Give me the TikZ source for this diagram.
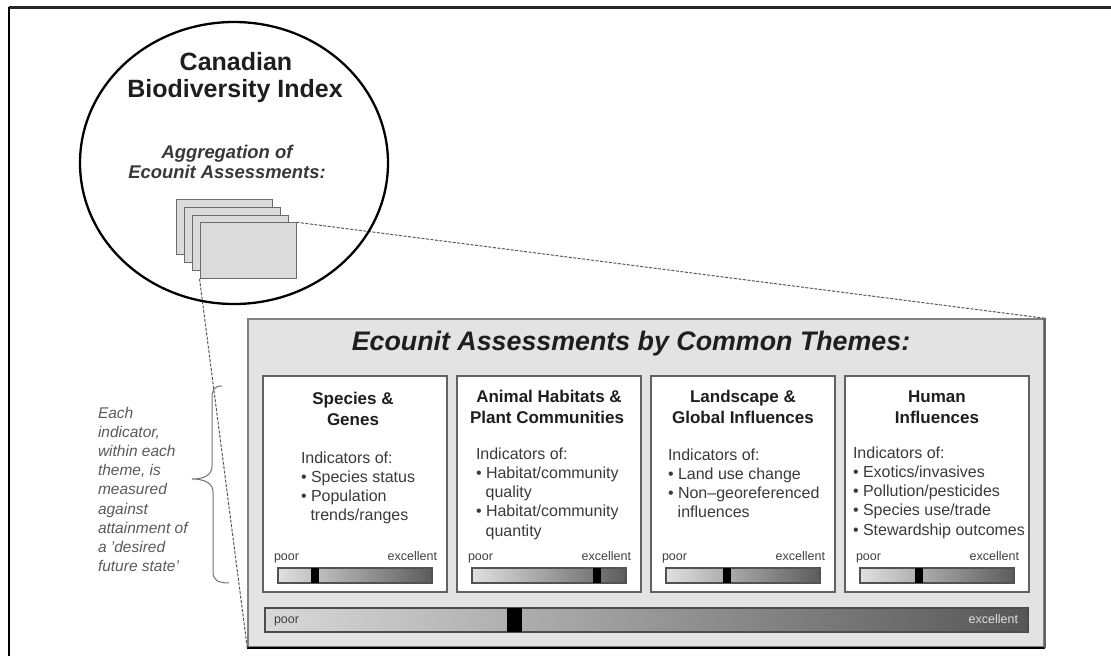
\documentclass[tikz,border=0pt]{standalone}
\usepackage{fontspec}
\setmainfont{Liberation Sans}
\usetikzlibrary{shapes.geometric}
\definecolor{titleink}{HTML}{1E1E1E}
\definecolor{bodyink}{HTML}{3A3A3A}
\definecolor{sideink}{HTML}{5A5A5A}
\newcommand\bigtitlefont{\fontsize{26.8}{30}\selectfont\bfseries\itshape}
\newcommand\cbifont{\fontsize{25}{27}\selectfont\bfseries}
\newcommand\aggfont{\fontsize{18.4}{20}\selectfont\bfseries\itshape}
\newcommand\themefont{\fontsize{17}{21}\selectfont\bfseries}
\newcommand\bodyfont{\fontsize{16}{19.3}\selectfont}
\newcommand\lblfont{\fontsize{12.5}{14}\selectfont}
\newcommand\sidefont{\fontsize{15.5}{19.2}\selectfont\itshape}
\begin{document}
\begin{tikzpicture}[x=1pt,y=-1pt,
  txt/.style={inner sep=0pt, outer sep=0pt},
  themebox/.style={draw=black!62, line width=1.3pt, fill=white, minimum width=184pt, minimum height=216pt, inner sep=0pt},
  stackrect/.style={draw=black!58, line width=1pt, fill=black!14, minimum width=96pt, minimum height=55.5pt, inner sep=0pt},
  smallbar/.style={draw=black!68, line width=1.1pt, left color=black!12, middle color=black!24, right color=black!64, minimum width=154pt, minimum height=15pt, inner sep=0pt},
  smallmark/.style={fill=black, minimum width=8pt, minimum height=15pt, inner sep=0pt},
  dashline/.style={draw=black!65, line width=1pt, dash pattern=on 3pt off 1.5pt},
  themetitle/.style={txt, anchor=base, font=\themefont, text=titleink},
  bodyline/.style={txt, anchor=base west, font=\bodyfont, text=bodyink},
  poorlbl/.style={txt, anchor=base west, font=\lblfont, text=black!75},
  exclbl/.style={txt, anchor=base east, font=\lblfont, text=black!75}
]
\useasboundingbox (0,0) rectangle (1111,656);
\fill[white] (0,0) rectangle (1111,656);
% frame (cropped at right and bottom)
\draw[line width=2.2pt, black!85] (8.5,7.5) -- (1111,7.5);
\draw[line width=1.6pt, black] (9,7) -- (9,656);

% stack of ecounit assessment cards
\node[stackrect] (s1) at (224,227) {};
\node[stackrect] (s2) at (232,235) {};
\node[stackrect] (s3) at (240,243) {};
\node[stackrect] (s4) at (248,250.5) {};

% big box
\node[draw=black!50, line width=1.5pt, fill=black!11, minimum width=796pt, minimum height=328pt, inner sep=0pt] (big) at (646,483) {};
\draw[line width=2.2pt, black] (big.south west) -- (big.south east);
\draw[line width=2pt, black!62] (big.south east) -- (big.north east);

% dashed zoom lines
\draw[dashline] (s4.north east) -- (big.north east);
\draw[dashline] (s4.south west) -- (big.south west);

% circle
\node[ellipse, draw=black, line width=2.3pt, minimum width=308pt, minimum height=282pt, inner sep=0pt] (cbi) at (234,163) {};
\node[txt, anchor=base, font=\cbifont, text=titleink] (cbi1) at (236,70) {Canadian};
\node[txt, anchor=base, font=\cbifont, text=titleink] (cbi2) at (235,97) {Biodiversity Index};
\node[txt, anchor=base, font=\aggfont, text=black!78] (agg1) at (227,158) {Aggregation of};
\node[txt, anchor=base, font=\aggfont, text=black!78] (agg2) at (227,178) {Ecounit Assessments:};

% big title
\node[txt, anchor=base, font=\bigtitlefont, text=titleink] (bigtitle) at (631,350) {Ecounit Assessments by Common Themes:};

% theme boxes
\node[themebox] (t1) at (355,484) {};
\node[themebox] (t2) at (549,484) {};
\node[themebox] (t3) at (743,484) {};
\node[themebox] (t4) at (937,484) {};

\node[themetitle] (t1a) at (353,404) {Species \&};
\node[themetitle] (t1b) at (353,425) {Genes};
\node[themetitle] (t2a) at (549,402) {Animal Habitats \&};
\node[themetitle] (t2b) at (547,423) {Plant Communities};
\node[themetitle] (t3a) at (743,402) {Landscape \&};
\node[themetitle] (t3b) at (743,423) {Global Influences};
\node[themetitle] (t4a) at (937,402) {Human};
\node[themetitle] (t4b) at (937,423) {Influences};

% body texts
\foreach \t [count=\i] in {Indicators of:, • Species status, • Population, \hspace*{9.5pt}trends/ranges}
  \node[bodyline] (b1-\i) at (301,463+19.3*\i-19.3) {\t};
\foreach \t [count=\i] in {Indicators of:, • Habitat/community, \hspace*{9.7pt}quality, • Habitat/community, \hspace*{9.7pt}quantity}
  \node[bodyline] (b2-\i) at (476,459+19.3*\i-19.3) {\t};
\foreach \t [count=\i] in {Indicators of:, • Land use change, • Non–georeferenced, \hspace*{9.7pt}influences}
  \node[bodyline] (b3-\i) at (668,460+19.3*\i-19.3) {\t};
\foreach \t [count=\i] in {Indicators of:, • Exotics/invasives, • Pollution/pesticides, • Species use/trade, • Stewardship outcomes}
  \node[bodyline] (b4-\i) at (853,458+19.3*\i-19.3) {\t};

% small bars
\node[smallbar] (bar1) at (355,575.5) {};
\node[smallbar] (bar2) at (549,575.5) {};
\node[smallbar] (bar3) at (743,575.5) {};
\node[smallbar] (bar4) at (937,575.5) {};
\node[smallmark] (m1) at (315,575.5) {};
\node[smallmark] (m2) at (597,575.5) {};
\node[smallmark] (m3) at (727,575.5) {};
\node[smallmark] (m4) at (919,575.5) {};
\node[poorlbl] (p1) at (274,560) {poor};
\node[exclbl] (e1) at (437,560) {excellent};
\node[poorlbl] (p2) at (468,560) {poor};
\node[exclbl] (e2) at (631,560) {excellent};
\node[poorlbl] (p3) at (662,560) {poor};
\node[exclbl] (e3) at (825,560) {excellent};
\node[poorlbl] (p4) at (856,560) {poor};
\node[exclbl] (e4) at (1019,560) {excellent};

% overall bar
\node[draw=black!70, line width=1.3pt, left color=black!15, middle color=black!22, right color=black!66, minimum width=763pt, minimum height=24pt, inner sep=0pt] (bbar) at (646.5,620) {};
\node[fill=black, minimum width=15pt, minimum height=24pt, inner sep=0pt] (bm) at (514.5,620) {};
\node[poorlbl] (bp) at (274,623) {poor};
\node[exclbl, text=black!12] (be) at (1018,623) {excellent};

% side note with brace
\foreach \t [count=\i] in {Each, {indicator,}, within each, {theme, is}, measured, against, attainment of, a 'desired, future state'}
  \node[txt, anchor=base west, font=\sidefont, text=sideink] (n\i) at (98,418+19.2*\i-19.2) {\t};
\draw[black!55, line width=1pt] (222,386) .. controls (214,386) and (212,390) .. (212,398)
  -- (212,466) .. controls (212,474) and (206,479) .. (192,479)
  .. controls (206,479) and (213,484) .. (213,492)
  -- (213,572) .. controls (213,580) and (218,583) .. (229,583);
\end{tikzpicture}
\end{document}
